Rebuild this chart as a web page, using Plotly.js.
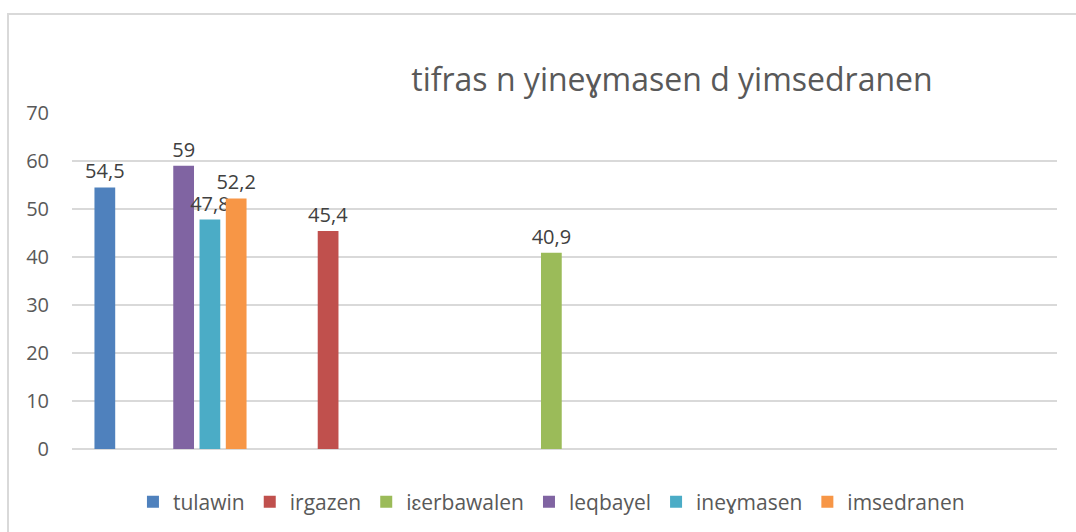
<!DOCTYPE html>
<html>
<head>
<meta charset="utf-8">
<script src="https://cdn.plot.ly/plotly-3.0.1.min.js"></script>
<style>
  html, body { margin: 0; padding: 0; background: #ffffff; }
  #wrap { position: relative; width: 1076px; height: 532px; overflow: hidden; }
  #chart { position: absolute; left: 0; top: 0; width: 1076px; height: 532px; }
  #frame { position: absolute; left: 7px; top: 13px; right: -10px; bottom: -10px;
           border-left: 2px solid #D9D9D9; border-top: 2px solid #D9D9D9; pointer-events: none; }
</style>
</head>
<body>
<div id="wrap">
  <div id="chart"></div>
  <div id="frame"></div>
</div>
<script>
// Category slots (unlabelled in the original)
const categories = ["1", "2", "3", "4", "5"];

// Series names and colours
const seriesNames = ["tulawin", "irgazen", "iɛerbawalen", "leqbayel", "ineɣmasen", "imsedranen"];
const seriesColors = ["#4F81BD", "#C0504D", "#9BBB59", "#8064A2", "#4BACC6", "#F79646"];

// Series values per category (null = no bar)
const tulawin     = [54.5, null, null, null, null];
const irgazen     = [null, 45.4, null, null, null];
const icerbawalen = [null, null, 40.9, null, null];
const leqbayel    = [59,   null, null, null, null];
const inegmasen   = [47.8, null, null, null, null];
const imsedranen  = [52.2, null, null, null, null];

const seriesValues = [tulawin, irgazen, icerbawalen, leqbayel, inegmasen, imsedranen];

const titleText = "tifras n yineɣmasen d yimsedranen";
const yTicks = [0, 10, 20, 30, 40, 50, 60, 70];

const fontFamily = "'Open Sans', 'Liberation Sans', sans-serif";

const traces = seriesNames.map((name, i) => ({
  type: "bar",
  name: name,
  x: categories,
  y: seriesValues[i],
  marker: { color: seriesColors[i] },
  text: seriesValues[i].map(v => v === null ? "" : String(v).replace(".", ",")),
  textposition: "outside",
  constraintext: "none",
  textfont: { family: fontFamily, size: 20, color: "#404040" },
  cliponaxis: false,
  hoverinfo: "skip"
}));

const layout = {
  width: 1076,
  height: 532,
  paper_bgcolor: "#ffffff",
  plot_bgcolor: "#ffffff",
  margin: { l: 72, r: 19, t: 113, b: 83, pad: 0 },
  barmode: "group",
  bargap: 0.2,
  bargroupgap: 0.21,
  font: { family: fontFamily, color: "#595959" },
  title: {
    text: titleText,
    font: { family: fontFamily, size: 32, color: "#595959" },
    xref: "container", yref: "container",
    x: 0.6245, xanchor: "center",
    y: 0.85, yanchor: "middle"
  },
  xaxis: {
    type: "category",
    categoryarray: categories,
    showticklabels: false,
    showgrid: false,
    showline: false,
    ticks: "",
    zeroline: false,
    fixedrange: true
  },
  yaxis: {
    range: [0, 70],
    tickvals: yTicks,
    ticktext: yTicks.map(String),
    showgrid: true,
    gridcolor: "#D9D9D9",
    gridwidth: 1.5,
    zeroline: true,
    zerolinecolor: "#D9D9D9",
    zerolinewidth: 2,
    showline: false,
    ticks: "",
    ticklabelstandoff: 22,
    tickfont: { family: fontFamily, size: 20, color: "#595959" },
    fixedrange: true
  },
  showlegend: true,
  legend: {
    orientation: "h",
    xref: "container", yref: "container",
    x: 0.5125, xanchor: "center",
    y: 0.0564, yanchor: "middle",
    font: { family: fontFamily, size: 21, color: "#595959" },
    itemwidth: 30,
    traceorder: "normal",
    bgcolor: "rgba(0,0,0,0)"
  }
};

Plotly.newPlot("chart", traces, layout, { displayModeBar: false, staticPlot: true });
</script>
</body>
</html>
